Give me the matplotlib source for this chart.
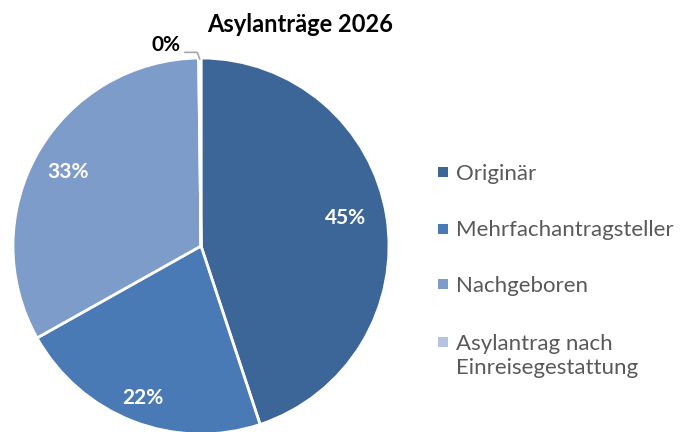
import numpy as np
import matplotlib.pyplot as plt
from matplotlib.patches import Rectangle

# Data
categories = ["Originär", "Mehrfachantragsteller", "Nachgeboren",
              "Asylantrag nach\nEinreisegestattung"]
shares = [45.0, 22.0, 33.0, 0.2]
pct_labels = ["45%", "22%", "33%", "0%"]
colors = ["#3D6698", "#4A7AB5", "#7E9CC9", "#B3C3E0"]

plt.rcParams['font.family'] = ['Lato', 'DejaVu Sans']

fig = plt.figure(figsize=(6.92, 4.32), dpi=100)
W, H = 692, 432
cx, cy, r = 201, 246, 188
ax = fig.add_axes([(cx - r) / W, (H - cy - r) / H, 2 * r / W, 2 * r / H])

wedges, _ = ax.pie(shares, colors=colors, startangle=90, counterclock=False,
                   wedgeprops=dict(edgecolor="white", linewidth=2))
ax.set_xlim(-1, 1)
ax.set_ylim(-1, 1)
ax.set_aspect("equal")
ax.axis("off")

# label placement (distance from centre, angle) in the style of Excel's best fit
label_pos = [(0.785, 11), (0.865, -111), (0.81, 151)]
for (d, ang), lab in zip(label_pos, pct_labels[:3]):
    ax.text(d * np.cos(np.radians(ang)), d * np.sin(np.radians(ang)), lab,
            ha="center", va="center", color="white", fontsize=15, fontweight="bold")

# 0% label with leader line
ax.plot([-0.085, -0.02, -0.007], [1.03, 1.03, 0.995], color="#A6A6A6", lw=1.2,
        clip_on=False)
ax.text(-0.186, 1.069, pct_labels[3], ha="center", va="center", color="black",
        fontsize=15, fontweight="bold")

fig.text(300 / W, 1 - 25 / H, "Asylanträge 2026", ha="center", va="center",
         fontsize=17, fontweight="bold", color="black")

# legend, laid out like the Excel one (square aligned with first text line)
row_y = [172, 229, 284, 342]
sq = 10
for y, c, lab in zip(row_y, colors, categories):
    fig.patches.append(Rectangle(((443 - sq / 2) / W, 1 - (y + sq / 2) / H),
                                 sq / W, sq / H, facecolor=c, edgecolor="none",
                                 transform=fig.transFigure))
    fig.text(456 / W, 1 - (y - 8.5) / H, lab, ha="left", va="top",
             fontsize=16, color="#595959", linespacing=1.27)

fig.savefig("out.png", dpi=100)
